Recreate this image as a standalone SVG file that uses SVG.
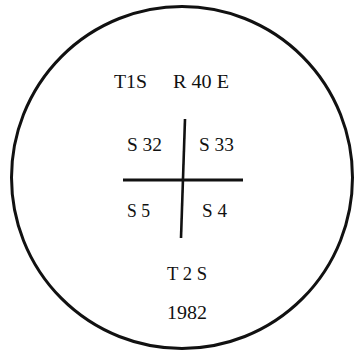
<svg xmlns="http://www.w3.org/2000/svg" width="354" height="351" viewBox="0 0 354 351">
<style>
.t{font-family:"Liberation Serif","Times New Roman",serif;font-size:19px;fill:#111}
.ln{stroke:#111;fill:none;stroke-linecap:butt}
</style>
<rect width="354" height="351" fill="#fff"/>
<g id="boundary"><ellipse cx="182" cy="177.5" rx="170.5" ry="171" class="ln" stroke-width="3"/></g>
<g id="connectors">
<line x1="123" y1="180" x2="243" y2="180" class="ln" stroke-width="3.2"/>
<line x1="185" y1="119" x2="181" y2="238" class="ln" stroke-width="2.6"/>
</g>
<g id="label-t1s"><text class="t" x="114" y="88" textLength="33" lengthAdjust="spacingAndGlyphs">T1S</text></g>
<g id="label-r40e"><text class="t" x="173" y="88" textLength="56" lengthAdjust="spacingAndGlyphs">R 40 E</text></g>
<g id="label-s32"><text class="t" x="127" y="151" textLength="35" lengthAdjust="spacingAndGlyphs">S 32</text></g>
<g id="label-s33"><text class="t" x="199" y="151" textLength="35" lengthAdjust="spacingAndGlyphs">S 33</text></g>
<g id="label-s5"><text class="t" x="127" y="217" textLength="23" lengthAdjust="spacingAndGlyphs">S 5</text></g>
<g id="label-s4"><text class="t" x="202" y="217" textLength="25" lengthAdjust="spacingAndGlyphs">S 4</text></g>
<g id="label-t2s"><text class="t" x="167" y="280" textLength="40" lengthAdjust="spacingAndGlyphs">T 2 S</text></g>
<g id="label-year"><text class="t" x="167" y="319" textLength="40" lengthAdjust="spacingAndGlyphs">1982</text></g>
</svg>
